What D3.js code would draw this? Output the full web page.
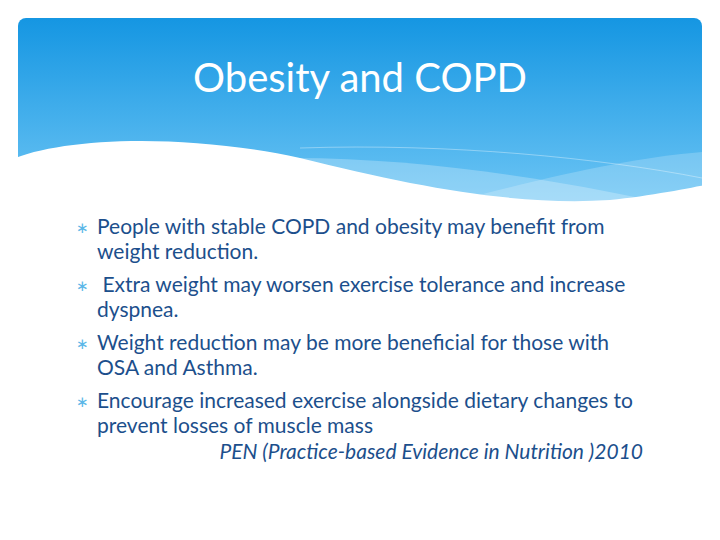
<!DOCTYPE html>
<html><head><meta charset="utf-8">
<script src="https://cdn.jsdelivr.net/npm/d3@7"></script>
<style>body{margin:0;background:#fff}</style>
</head><body>
<div class="chart"></div>
<script>
// Slide content
const title = "Obesity and COPD"
const bullets = [
  ["People with stable COPD and obesity may benefit from", "weight reduction."],
  [" Extra weight may worsen exercise tolerance and increase", "dyspnea."],
  ["Weight reduction may be more beneficial for those with", "OSA and Asthma."],
  ["Encourage increased exercise alongside dietary changes to", "prevent losses of muscle mass"]
]
const citation = "PEN (Practice-based Evidence in Nutrition )2010"

const width = 720, height = 540
const svg = d3.select(".chart").append("svg")
    .attr("width", width).attr("height", height)
    .style("font-family", "Lato, 'Open Sans', sans-serif")

const defs = svg.append("defs")
const grad = defs.append("linearGradient").attr("id", "hdr")
    .attr("x1", 0).attr("y1", 0).attr("x2", 0).attr("y2", 1)
grad.append("stop").attr("offset", "0%").attr("stop-color", "#1596e2")
grad.append("stop").attr("offset", "100%").attr("stop-color", "#74c9f6")

// Header block
svg.append("rect").attr("x", 18).attr("y", 18).attr("width", 684).attr("height", 200)
    .attr("rx", 8).attr("fill", "url(#hdr)")

// lighter bands
svg.append("path")
    .attr("d", "M230,160 C380,150 560,178 702,212 L702,218 L230,218 Z")
    .attr("fill", "#ffffff").attr("opacity", 0.25)
svg.append("path")
    .attr("d", "M430,208 C540,178 630,158 702,152 L702,218 L430,218 Z")
    .attr("fill", "#ffffff").attr("opacity", 0.2)
svg.append("path")
    .attr("d", "M300,148 C450,143 600,158 702,178")
    .attr("fill", "none").attr("stroke", "#ffffff").attr("stroke-opacity", 0.35)

// white wave cutting the header
svg.append("path")
    .attr("d", "M10,160 C60,138 180,132 300,158 C420,188 520,206 610,200 C650,196 690,188 710,184 L710,230 L10,230 Z")
    .attr("fill", "#ffffff")

svg.append("text").attr("x", 360).attr("y", 92).attr("text-anchor", "middle")
    .attr("fill", "#ffffff").attr("font-size", 40).text(title)

const fs = 21, lineH = 24.5, gap = 33.5
let y = 234
const g = svg.append("g")
bullets.forEach(lines => {
  g.append("text").attr("x", 76).attr("y", y - 1).attr("fill", "#5bb7e8")
      .attr("font-size", 15).text("∗")
  lines.forEach((t, i) => {
    g.append("text").attr("x", 97).attr("y", y + i * lineH)
        .attr("fill", "#1c4f8c").attr("font-size", fs)
        .attr("xml:space", "preserve").style("white-space", "pre").text(t)
  })
  y += lineH + gap
})
g.append("text").attr("x", 643).attr("y", y - gap + lineH + 2).attr("text-anchor", "end")
    .attr("fill", "#1c4f8c").attr("font-size", fs).attr("font-style", "italic")
    .text(citation)
</script>
</body></html>
